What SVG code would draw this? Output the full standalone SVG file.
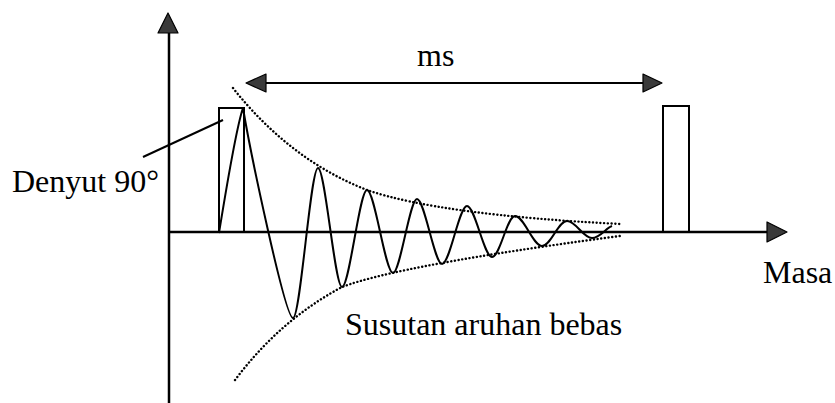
<svg xmlns="http://www.w3.org/2000/svg" width="835" height="403" viewBox="0 0 835 403">
<style>
.ax{stroke:#000;stroke-width:2.5;fill:none}
.ln{stroke:#000;stroke-width:2;fill:none}
.dot{stroke:#000;stroke-width:2.4;fill:none;stroke-dasharray:0.1 3.6;stroke-linecap:round}
.ah{fill:#3a3a3a;stroke:#000;stroke-width:1.2;stroke-linejoin:round}
.t{font-family:"Liberation Serif","Times New Roman",serif;font-size:32px;fill:#000}
</style>
<rect width="835" height="403" fill="#fff"/>
<g id="axes">
<line class="ax" x1="169" y1="30" x2="169" y2="403"/>
<polygon class="ah" points="168,13 178,33 158,33"/>
<line class="ax" x1="169" y1="232" x2="770" y2="232"/>
<polygon class="ah" points="787,232 767,222 767,242"/>
</g>
<g id="pulse1"><rect class="ln" x="219" y="108" width="25" height="124"/></g>
<g id="pulse2"><rect class="ln" x="663" y="106" width="26" height="126"/></g>
<g id="envelope">
<path class="dot" d="M233,88 Q290,160 367,190 Q440,215 620,224"/>
<path class="dot" d="M235,380 Q280,320 342,287 Q400,265 620,236"/>
</g>
<g id="fid">
<path class="ln" d="M219,233 C226,190 236,128 243,108 C250,150 285,318 293,318 C300.5,318 310.5,168 318,168 C325.2,168 334.8,287 342,287 C349.5,287 359.5,190 367,190 C374.8,190 385.2,273 393,273 C400.2,273 409.8,199 417,199 C424.5,199 434.5,264 442,264 C450,264 459,206 467,206 C475,206 484,257 492,257 C500,257 507,216 515,216 C524,216 533,246 542,246 C551,246 558,221 567,221 C576,221 583,238 592,238 C600,238 606,228 612,226"/>
</g>
<g id="connectors">
<line class="ln" x1="143" y1="157" x2="223" y2="120"/>
<line class="ln" x1="262" y1="83" x2="647" y2="83"/>
<polygon class="ah" points="246,83 266,74 266,92"/>
<polygon class="ah" points="662,83 643,74 643,92"/>
</g>
<g id="labels">
<text class="t" x="12" y="192">Denyut 90°</text>
<text class="t" x="417" y="66">ms</text>
<text class="t" x="763" y="283">Masa</text>
<text class="t" x="345" y="335">Susutan aruhan bebas</text>
</g>
</svg>
